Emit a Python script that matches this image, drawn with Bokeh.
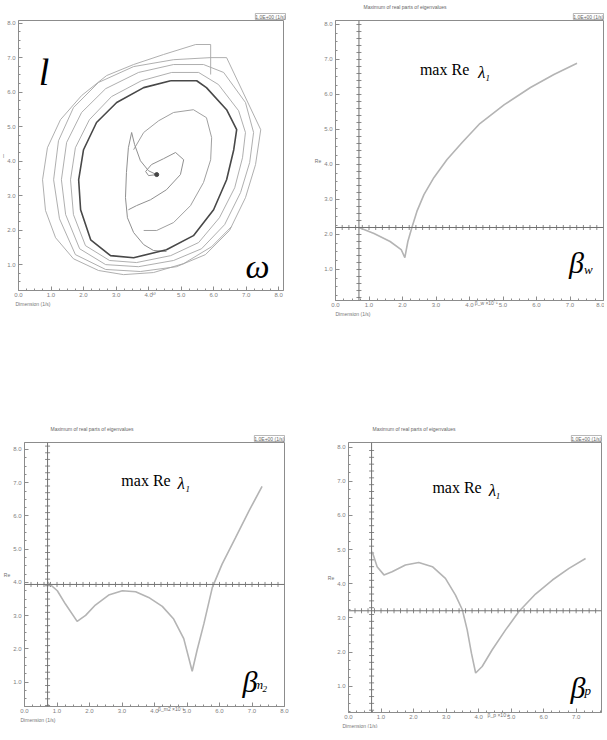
import numpy as np
from bokeh.plotting import figure
from bokeh.layouts import column, row
from bokeh.models import Label, Span, FixedTicker, Range1d, NumeralTickFormatter, Title
from bokeh.embed import file_html
from bokeh.resources import INLINE

# ---------------- Panel 1 : phase portrait (omega, l) ----------------
limit_u = [4.68, 5.48, 5.78, 6.40, 6.71, 6.62, 6.40, 6.00, 5.38, 4.55, 3.54, 2.83, 2.22, 1.91, 1.85, 2.00, 2.40, 3.02, 3.85, 4.68]
limit_v = [6.33, 6.33, 6.13, 5.49, 4.91, 4.33, 3.46, 2.59, 1.84, 1.43, 1.20, 1.26, 1.72, 2.59, 3.46, 4.33, 5.12, 5.70, 6.13, 6.33]

out1_u = [5.54, 6.15, 6.77, 6.98, 6.89, 6.65, 6.18, 5.54, 4.68, 3.63, 2.80, 2.06, 1.69, 1.60, 1.75, 2.18, 2.86, 3.78, 4.71, 5.54]
out1_v = [6.57, 6.22, 5.46, 4.83, 4.10, 3.23, 2.36, 1.64, 1.26, 1.06, 1.12, 1.55, 2.45, 3.46, 4.39, 5.20, 5.87, 6.33, 6.57, 6.57]

out2_u = [5.69, 6.31, 6.98, 7.23, 7.11, 6.83, 6.34, 5.63, 4.77, 3.69, 2.68, 1.88, 1.45, 1.32, 1.48, 1.94, 2.68, 3.69, 4.77, 5.69]
out2_v = [6.80, 6.57, 5.70, 4.83, 3.96, 3.09, 2.16, 1.46, 1.12, 0.94, 1.00, 1.46, 2.45, 3.46, 4.54, 5.41, 6.10, 6.57, 6.80, 6.80]

out3_u = [6.40, 7.45, 7.29, 6.98, 6.49, 5.75, 4.86, 3.75, 2.68, 1.75, 1.26, 1.08, 1.23, 1.69, 2.46, 3.54, 4.77, 5.91, 6.40]
out3_v = [7.00, 4.91, 3.90, 2.94, 1.99, 1.29, 0.94, 0.80, 0.86, 1.29, 2.33, 3.46, 4.59, 5.55, 6.28, 6.74, 6.94, 7.00, 7.00]

out4_u = [5.91, 5.91, 5.45, 4.46, 3.54, 2.71, 1.94, 1.29, 0.89, 0.74, 0.83, 1.14, 1.69, 2.46, 3.23, 4.15, 5.08, 5.94, 6.55]
out4_v = [6.51, 7.38, 7.38, 7.09, 6.80, 6.48, 5.90, 5.20, 4.39, 3.46, 2.57, 1.78, 1.17, 0.83, 0.71, 0.77, 1.03, 1.52, 2.10]

spiral_u = [4.25, 4.00, 3.91, 4.09, 4.46, 4.83, 5.08, 4.98, 4.55, 4.06, 3.63, 3.38]
spiral_v = [3.61, 3.58, 3.70, 3.90, 4.07, 4.25, 4.04, 3.61, 3.17, 2.88, 2.71, 2.59]

arc_u = [3.54, 3.85, 4.31, 4.77, 5.38, 5.78, 5.94, 5.91, 5.69, 5.29, 4.77, 4.25, 3.85]
arc_v = [4.33, 4.83, 5.17, 5.41, 5.49, 5.26, 4.68, 4.04, 3.38, 2.71, 2.22, 1.99, 1.99]

hook_u = [4.31, 4.00, 3.75, 3.57, 3.48, 3.38, 3.32, 3.29, 3.35, 3.54, 3.85, 4.15, 4.55]
hook_v = [3.58, 3.72, 4.01, 4.48, 4.83, 4.39, 3.67, 2.94, 2.36, 1.93, 1.58, 1.41, 1.38]

# ---------------- Panel 2 : max Re lambda vs beta_w ----------------
bw_x = [0.70, 1.15, 1.63, 1.96, 2.07, 2.16, 2.28, 2.43, 2.64, 2.94, 3.33, 3.78, 4.31, 5.04, 5.82, 6.52, 7.21]
bw_y = [2.20, 2.03, 1.80, 1.57, 1.34, 1.80, 2.20, 2.66, 3.14, 3.63, 4.14, 4.63, 5.17, 5.71, 6.20, 6.57, 6.89]

# ---------------- Panel 3 : max Re lambda vs beta_m2 ----------------
bm_x = [0.70, 1.01, 1.26, 1.62, 1.88, 2.18, 2.59, 3.01, 3.42, 3.82, 4.24, 4.59, 4.90, 5.16, 5.31, 5.52, 5.78, 6.08, 6.49, 6.90, 7.31]
bm_y = [4.02, 3.75, 3.35, 2.83, 3.01, 3.32, 3.62, 3.75, 3.72, 3.55, 3.28, 2.90, 2.31, 1.33, 1.96, 2.76, 3.85, 4.55, 5.34, 6.14, 6.89]

# ---------------- Panel 4 : max Re lambda vs beta_p ----------------
bp_x = [0.73, 0.88, 1.09, 1.34, 1.75, 2.16, 2.58, 2.98, 3.29, 3.50, 3.65, 3.78, 3.91, 4.11, 4.42, 4.83, 5.24, 5.75, 6.27, 6.78, 7.29]
bp_y = [4.94, 4.50, 4.26, 4.35, 4.55, 4.62, 4.50, 4.16, 3.67, 3.24, 2.65, 1.97, 1.39, 1.58, 2.07, 2.65, 3.19, 3.70, 4.11, 4.45, 4.74]

x_ticks = [0, 1, 2, 3, 4, 5, 6, 7, 8]
y_ticks = [1, 2, 3, 4, 5, 6, 7, 8]

TITLE_TEXT = "Maximum of real parts of eigenvalues"
BOX_TEXT = "1.0E+00 (1/s)"
DIM_TEXT = "Dimension (1/s)"

FRAME = "#8c8c8c"
SERIF = "Liberation Serif"
SANS = "Liberation Sans"
NB = "\u00a0"


def make_fig(xr, yr, fw, fh, bl, br, bt, bb):
    p = figure(x_range=Range1d(*xr), y_range=Range1d(*yr), frame_width=fw, frame_height=fh,
               min_border_left=bl, min_border_right=br, min_border_top=bt, min_border_bottom=bb,
               output_backend="svg", toolbar_location=None)
    p.grid.visible = False
    p.outline_line_color = FRAME
    p.background_fill_color = "white"
    p.border_fill_color = "white"
    minor_x = list(np.arange(0, 8.01, 0.25))
    minor_y = list(np.arange(0, 8.3, 0.25))
    p.xaxis[0].ticker = FixedTicker(ticks=x_ticks, minor_ticks=minor_x)
    p.yaxis[0].ticker = FixedTicker(ticks=y_ticks, minor_ticks=minor_y)
    for ax in (p.xaxis[0], p.yaxis[0]):
        ax.axis_line_color = FRAME
        ax.major_tick_line_color = FRAME
        ax.minor_tick_line_color = FRAME
        ax.major_tick_in = 4
        ax.major_tick_out = 0
        ax.minor_tick_in = 2
        ax.minor_tick_out = 0
        ax.major_label_text_font_size = "6px"
        ax.major_label_text_font = SANS
        ax.major_label_text_color = "#808080"
        ax.major_label_standoff = 3
        ax.formatter = NumeralTickFormatter(format="0.0")
        ax.axis_label_text_font = SANS
        ax.axis_label_text_font_size = "5px"
        ax.axis_label_text_font_style = "normal"
        ax.axis_label_text_color = "#707070"
    p.xaxis[0].major_label_standoff = 2
    return p


def add_titles(p, title=None, title_offset=0, box_offset=0, dim_offset=0):
    p.add_layout(Title(text=BOX_TEXT, align="right", text_font=SANS, text_font_size="5px",
                       text_font_style="normal", text_color="#666666", standoff=2,
                       offset=box_offset, border_line_color="#9a9a9a", border_line_width=0.7),
                 "above")
    if title:
        p.add_layout(Title(text=title, align="left", text_font=SANS, text_font_size="5px",
                           text_font_style="normal", text_color="#666666", standoff=1,
                           offset=title_offset), "above")
    p.add_layout(Title(text=DIM_TEXT, align="left", text_font=SANS, text_font_size="5px",
                       text_font_style="normal", text_color="#777777", standoff=0,
                       offset=dim_offset), "below")


def lab(p, x, y, text, size, style="normal", font=SERIF, align="left", color="black"):
    p.add_layout(Label(x=x, y=y, text=text, text_font=font, text_font_size=f"{size}px",
                       text_font_style=style, text_align=align, text_baseline="alphabetic",
                       text_color=color))


def cross_axes(p, x0, y0, xr, yr):
    p.add_layout(Span(location=x0, dimension="height", line_color="#707070", line_width=1))
    p.add_layout(Span(location=y0, dimension="width", line_color="#707070", line_width=1))
    xs = np.arange(xr[0], xr[1], 0.2)
    ys = np.arange(yr[0], yr[1], 0.2)
    p.scatter(xs, [y0] * len(xs), marker="dash", angle=np.pi / 2, size=5, line_color="#8a8a8a")
    p.scatter([x0] * len(ys), ys, marker="dash", size=5, line_color="#8a8a8a")


def x_label(p, text, pad):
    p.xaxis[0].axis_label = NB * pad + text
    p.xaxis[0].axis_label_standoff = -10


def y_label(p, text):
    p.yaxis[0].axis_label = text
    p.yaxis[0].axis_label_orientation = "horizontal"
    p.yaxis[0].axis_label_standoff = 0


# ---- Panel 1
p1 = make_fig((0, 8.15), (0.25, 8.076), 265, 270, 17, 28, 20, 29)
add_titles(p1, None, box_offset=-2, dim_offset=-3)
for uu, vv in [(out4_u, out4_v), (out3_u, out3_v), (out2_u, out2_v), (out1_u, out1_v)]:
    p1.line(uu, vv, line_color="#a6a6a6", line_width=0.9)
p1.line(spiral_u, spiral_v, line_color="#909090", line_width=1)
p1.line(arc_u, arc_v, line_color="#a0a0a0", line_width=1)
p1.line(hook_u, hook_v, line_color="#909090", line_width=1)
p1.line(limit_u, limit_v, line_color="#484848", line_width=1.6)
p1.scatter([spiral_u[0]], [spiral_v[0]], size=4, color="#444444")
lab(p1, 0.62, 6.57, "l", 38, "italic")
lab(p1, 6.98, 0.94, "ω", 34, "italic")
x_label(p1, "ω", 4)
y_label(p1, "l")

# ---- Panel 2
p2 = make_fig((0, 8.0), (0.114, 8.114), 268, 280, 20, 1, 15, 24)
add_titles(p2, TITLE_TEXT, title_offset=28, box_offset=0, dim_offset=0)
cross_axes(p2, 0.70, 2.20, (0.0, 8.0), (0.2, 8.1))
p2.line(bw_x, bw_y, line_color="#b4b4b4", line_width=1.6)
lab(p2, 2.52, 6.71, "max  Re", 16)
lab(p2, 4.25, 6.63, "λ", 17, "italic")
lab(p2, 4.48, 6.47, "1", 9, "italic")
lab(p2, 6.97, 1.20, "β", 30, "italic")
lab(p2, 7.42, 1.00, "w", 13, "italic")
x_label(p2, "β_w ×10⁻¹", 24)
y_label(p2, "Re")

# ---- Panel 3
p3 = make_fig((0, 8.0), (0.269, 8.209), 260, 264, 21, 29, 119, 22)
add_titles(p3, TITLE_TEXT, title_offset=26, box_offset=0, dim_offset=-4)
cross_axes(p3, 0.71, 3.94, (0.0, 8.0), (0.3, 8.2))
p3.line(bm_x, bm_y, line_color="#b4b4b4", line_width=1.6)
lab(p3, 2.98, 7.07, "max  Re", 16)
lab(p3, 4.71, 6.99, "λ", 17, "italic")
lab(p3, 4.95, 6.81, "1", 9, "italic")
lab(p3, 6.71, 1.01, "β", 30, "italic")
lab(p3, 7.05, 0.93, "m", 13, "italic")
lab(p3, 7.32, 0.81, "2", 9, "italic")
x_label(p3, "β_m2 ×10⁻¹", 24)
y_label(p3, "Re")

# ---- Panel 4
p4 = make_fig((0, 7.78), (0.233, 8.134), 253, 270, 35, 1, 113, 22)
add_titles(p4, TITLE_TEXT, title_offset=24, box_offset=0, dim_offset=-6)
cross_axes(p4, 0.71, 3.21, (0.0, 7.8), (0.3, 8.1))
p4.line(bp_x, bp_y, line_color="#b4b4b4", line_width=1.6)
lab(p4, 2.58, 6.82, "max  Re", 16)
lab(p4, 4.31, 6.73, "λ", 17, "italic")
lab(p4, 4.53, 6.56, "1", 9, "italic")
lab(p4, 6.83, 0.96, "β", 30, "italic")
lab(p4, 7.26, 0.87, "p", 13, "italic")
x_label(p4, "β_p ×10⁻¹", 34)
y_label(p4, "Re")

layout = column(row(p1, p2), row(p3, p4))
open("out.html", "w").write(file_html(layout, INLINE))
